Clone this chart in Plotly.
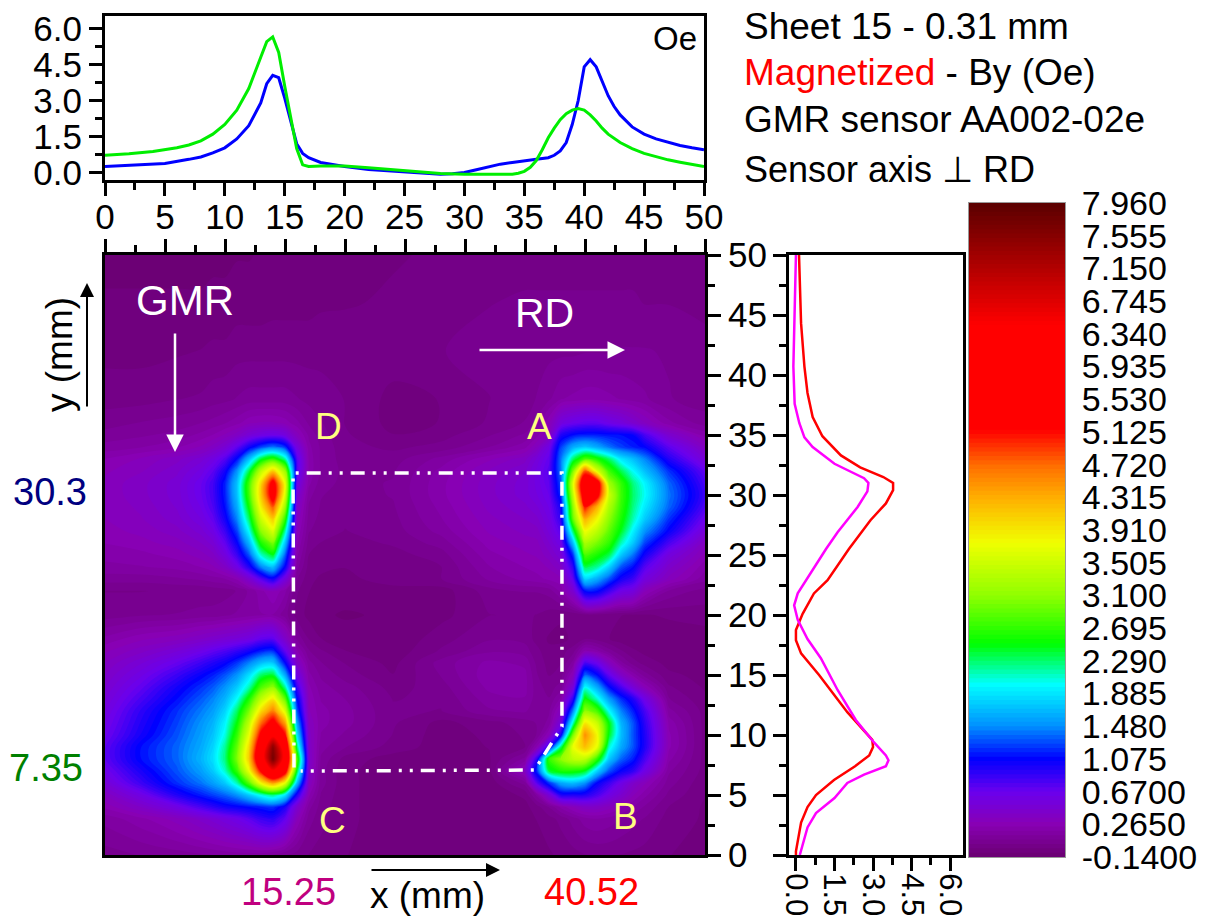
import plotly.graph_objects as go

W, H = 1207, 919
FONT = "Liberation Sans"

# ---- top profiles (x mm, Oe)
blue_x = [0,5,7,8,9,10,11,12,13,13.5,14,14.5,15,15.5,16,16.5,17,18,19,20,22,24,26,28,29,30,31,32,33,34,35,36,37,37.5,38,38.5,39,39.5,40,40.5,41,41.5,42,42.5,43,44,45,46,47,48,49,50]
blue_v = [.25,.38,.55,.65,.82,1.03,1.4,1.95,2.9,3.7,4.05,3.95,3.1,2.1,1.2,.8,.62,.42,.33,.25,.13,.06,-.02,-.07,-.05,0,.12,.25,.35,.42,.47,.55,.62,.72,.9,1.25,2.0,3.0,4.4,4.7,4.4,3.8,3.2,2.75,2.4,1.9,1.6,1.4,1.25,1.13,1.03,.95]
green_x = [0,2,4,6,7,8,9,10,11,12,13,13.5,14,14.5,15,15.5,16,16.5,17,18,20,22,24,26,28,30,32,34,34.5,35,35.5,36,36.5,37,37.5,38,38.5,39,39.5,40,40.5,41,41.5,42,43,44,45,46,47,48,49,50]
green_v = [.72,.78,.88,1.03,1.15,1.32,1.6,2.0,2.6,3.5,4.8,5.45,5.65,5.0,3.6,2.3,1.0,.32,.25,.27,.27,.2,.13,.03,-.04,-.07,-.08,-.07,-.03,.05,.22,.5,.95,1.45,1.85,2.2,2.45,2.6,2.67,2.6,2.4,2.15,1.85,1.6,1.25,1.0,.8,.65,.53,.43,.33,.25]

# ---- right profiles (Oe, y mm)
red_y = [50,44.3,40.7,38.5,36.5,34.9,33.3,32.3,31.5,31,30.4,29.3,27.9,25.5,22.9,21.8,20.1,18.75,17.9,16.8,15,11.9,9.6,9,8.3,7.4,6.25,5,4,2.7,.3,0]
red_v = [.12,.2,.33,.45,.65,1.03,1.75,2.5,3.4,3.78,3.78,3.5,2.9,2.06,1.23,.7,.26,0,0,.2,.9,2.0,2.97,3.0,2.85,2.3,1.48,.78,.45,.2,0,0]
mag_y = [50,44.3,40.7,37.6,36,34.8,34,32.6,31.4,31,30.3,29,26.9,25.5,23.1,21.8,20.8,19.6,18,16.4,13.75,11.25,9.4,8.3,7.9,7.4,6.7,6,4.75,3.5,2.3,0]
mag_v = [0,-.07,-.1,-.05,.13,.33,.65,1.5,2.65,2.82,2.78,2.4,1.62,1.17,.45,.07,-.07,.07,.45,.97,1.62,2.33,3.03,3.5,3.6,3.5,2.65,2.0,1.5,.78,.45,.15]

# ---- outline of the sheet (mm)
rect_x = [15.75,15.67,38.08,38.08,35.8,16.3]
rect_y = [7.3,31.83,31.83,10.7,7.08,7.0]

# ---- field map
map_x = [0,3,6,8,9,10,11,12,13,14,15,16,17,18,20,24,28,32,35,36,37,38,39,40,41,42,43,44,45,47,50]
map_y = [0,3,4,5,6,7,8,9,10,11,12,13,14,15,16,17,18,20,22,23,24,25,26,27,28,29,30,31,32,33,34,35,36,38,42,46,50]
map_z = [
[.05,.08,.10,.12,.13,.14,.15,.15,.15,.12,.08,.05,.02,0,-.03,-.06,-.08,-.08,-.06,-.05,-.04,-.02,0,.02,.03,.03,.02,.01,0,-.03,-.06],
[.15,.22,.32,.42,.48,.55,.62,.72,.85,.9,.7,.3,.1,.04,-.02,-.06,-.08,-.08,-.06,-.03,0,.04,.1,.16,.18,.16,.13,.1,.07,0,-.04],
[.25,.4,.6,.8,.9,1.0,1.05,1.1,1.15,1.2,.98,.45,.15,.05,-.02,-.06,-.08,-.07,-.05,0,.08,.2,.3,.38,.38,.32,.25,.18,.12,.02,-.04],
[.35,.6,.95,1.15,1.25,1.35,1.5,1.75,2.05,2.25,1.9,.95,.25,.07,-.02,-.06,-.08,-.07,-.02,.15,.5,.95,.95,.95,.8,.6,.45,.3,.2,.06,-.03],
[.5,.85,1.2,1.4,1.55,1.75,2.15,2.85,3.8,4.4,3.7,1.7,.35,.1,-.02,-.06,-.08,-.07,.1,.75,1.2,1.6,1.7,1.5,1.07,.85,.62,.42,.3,.1,-.02],
[.62,.98,1.3,1.55,1.75,2.1,2.7,3.7,5.2,6.4,5.5,2.4,.4,.1,-.02,-.06,-.08,-.05,.35,1.2,2.4,2.6,2.6,2.45,1.8,1.3,1.05,.9,.6,.14,0],
[.72,1.1,1.35,1.65,1.85,2.25,3.0,4.1,6.0,7.7,6.2,2.8,.42,.12,0,-.06,-.08,-.04,.15,.9,2.7,3.1,3.4,3.4,2.7,1.75,1.35,1.15,.8,.2,0],
[.72,1.1,1.35,1.6,1.8,2.2,2.9,4.0,5.8,7.5,6.0,2.3,.4,.15,.08,0,-.06,-.03,.02,.25,.9,2.3,3.7,4.2,3.7,2.1,1.6,1.3,.95,.25,0],
[.65,1.0,1.3,1.55,1.72,2.05,2.7,3.7,5.3,6.3,5.2,1.9,.38,.18,.12,.02,-.06,-.02,.03,.08,.3,1.0,3.0,4.5,3.8,2.45,1.7,1.3,.95,.25,0],
[.6,.95,1.25,1.5,1.65,1.95,2.5,3.4,4.7,5.4,4.4,1.6,.35,.2,.15,.03,-.05,0,.05,.08,.15,.55,2.1,3.9,3.5,2.5,1.65,1.3,.9,.22,0],
[.55,.9,1.2,1.42,1.55,1.8,2.3,3.0,4.0,4.6,3.6,1.3,.3,.2,.15,.03,.02,.12,.14,.08,.12,.35,1.45,3.1,2.8,2.0,1.45,1.15,.8,.15,0],
[.5,.8,1.1,1.32,1.45,1.65,2.0,2.6,3.4,3.9,2.9,1.1,.28,.18,.13,.02,.03,.16,.18,.1,.08,.2,.9,2.55,2.1,1.55,1.2,.95,.6,.08,-.02],
[.45,.7,1.0,1.2,1.32,1.5,1.75,2.15,2.8,3.1,2.2,.85,.25,.15,.1,0,.05,.2,.2,.1,.05,.1,.5,2.0,1.6,1.1,.8,.5,.28,.03,-.04],
[.4,.6,.85,1.05,1.15,1.3,1.5,1.85,2.3,2.4,1.6,.6,.2,.12,.05,-.03,.08,.22,.2,.08,.02,.05,.3,1.35,1.1,.7,.4,.22,.1,-.02,-.05],
[.35,.5,.68,.85,.95,1.05,1.22,1.45,1.7,1.75,1.1,.4,.15,.08,.02,-.05,.1,.2,.17,.06,0,.02,.15,.8,.65,.35,.15,.05,0,-.05,-.06],
[.28,.38,.5,.62,.7,.78,.88,1.0,1.15,1.2,.7,.25,.08,.03,-.03,-.07,.03,.12,.1,.04,-.02,0,.05,.25,.2,.1,.03,-.02,-.05,-.07,-.07],
[.2,.28,.33,.4,.44,.48,.52,.58,.7,.72,.42,.12,.02,-.03,-.07,-.08,0,.07,.06,0,-.04,-.05,-.02,.02,0,-.03,-.06,-.08,-.08,-.08,-.07],
[.05,.07,.08,.1,.1,.12,.14,.16,.18,.18,.1,0,-.05,-.08,-.09,-.08,-.05,.02,.03,.02,0,-.02,-.02,0,0,-.02,-.03,-.04,-.04,-.02,0],
[.02,.02,.03,.03,.04,.05,.08,.14,.22,.3,.2,.03,-.03,-.06,-.07,-.06,-.06,.05,.08,.08,.1,.2,.45,1.1,1.1,.85,.62,.55,.3,.12,.05],
[.1,.1,.12,.14,.16,.18,.25,.45,.75,1.0,.55,.08,-.02,-.04,-.05,0,.02,.14,.2,.22,.25,.28,.7,1.8,1.6,1.3,1.0,.85,.55,.32,.15],
[.17,.18,.2,.24,.28,.38,.6,.95,1.45,1.7,1.05,.15,0,-.02,-.03,0,.02,.18,.24,.26,.3,.4,.9,2.35,2.2,1.8,1.3,1.1,.75,.42,.2],
[.2,.22,.26,.32,.38,.55,.85,1.3,2.1,2.45,1.35,.2,.02,0,-.02,0,.05,.22,.28,.3,.38,.5,1.2,2.8,2.6,2.35,1.75,1.4,1.0,.55,.27],
[.24,.27,.32,.4,.48,.7,1.05,1.65,2.6,3.0,1.75,.25,.05,.02,0,.03,.1,.26,.32,.33,.45,.62,1.7,3.25,3.0,2.7,2.15,1.75,1.25,.8,.35],
[.27,.31,.38,.48,.6,.85,1.25,2.0,3.1,3.6,2.2,.3,.08,.05,.02,.05,.15,.3,.36,.38,.52,.75,2.3,3.75,3.4,2.9,2.45,1.95,1.5,1.05,.5],
[.29,.34,.43,.56,.7,1.0,1.45,2.3,3.5,4.1,2.7,.35,.1,.06,.03,.06,.18,.33,.4,.44,.57,.9,2.9,4.3,3.8,3.1,2.6,2.15,1.75,1.2,.65],
[.3,.36,.46,.62,.78,1.1,1.6,2.55,3.85,4.8,3.2,.4,.12,.07,.04,.07,.2,.36,.44,.5,.62,1.0,3.1,5.1,4.3,3.3,2.7,2.25,1.9,1.35,.78],
[.31,.38,.48,.66,.82,1.15,1.7,2.75,4.1,5.5,3.6,.48,.15,.08,.05,.08,.22,.38,.48,.56,.67,1.2,3.4,5.7,5.4,3.5,2.75,2.3,2.0,1.4,.85],
[.31,.38,.48,.66,.82,1.15,1.7,2.75,4.0,5.4,3.7,.6,.2,.1,.06,.08,.22,.38,.48,.58,.72,1.3,3.6,5.9,5.6,3.2,2.7,2.25,1.95,1.35,.8],
[.28,.34,.44,.58,.72,1.0,1.5,2.35,3.4,4.1,3.2,.75,.22,.12,.06,.07,.2,.35,.45,.58,.75,1.4,3.0,4.8,3.6,2.75,2.35,2.0,1.7,1.2,.7],
[.24,.3,.38,.48,.58,.75,1.1,1.7,2.4,2.7,2.2,.75,.22,.12,.05,.05,.15,.28,.38,.52,.7,1.4,2.3,2.8,2.6,2.3,1.9,1.7,1.45,.95,.5],
[.15,.18,.23,.3,.37,.48,.7,1.0,1.25,1.4,1.2,.55,.2,.12,.04,.01,.04,.13,.22,.35,.6,1.25,1.6,1.75,1.6,1.4,1.25,1.15,1.07,.72,.35],
[.1,.12,.15,.2,.24,.3,.38,.5,.58,.62,.55,.32,.17,.1,.03,-.03,0,.07,.14,.22,.35,.95,1.1,1.15,1.15,1.12,1.1,1.05,.8,.45,.22],
[.05,.08,.1,.13,.15,.18,.22,.28,.3,.3,.27,.2,.12,.08,.02,-.05,-.03,.03,.08,.15,.28,.55,.65,.7,.7,.62,.55,.45,.35,.2,.1],
[0,0,.02,.03,.05,.06,.08,.1,.1,.1,.1,.08,.06,.05,.02,-.05,-.03,.02,.05,.08,.12,.18,.2,.22,.22,.2,.18,.16,.14,.08,.05],
[-.05,-.05,-.04,-.03,-.02,-.02,0,0,0,0,0,0,0,0,.02,0,.02,.04,.05,.05,.06,.06,.06,.07,.07,.07,.08,.08,.08,.07,.05],
[-.08,-.08,-.08,-.08,-.07,-.07,-.06,-.06,-.06,-.05,-.05,-.05,-.05,-.04,-.04,-.02,0,.02,.03,.03,.03,.03,.03,.03,.03,.03,.03,.03,.02,.02,0],
[-.1,-.1,-.1,-.1,-.1,-.1,-.09,-.09,-.08,-.08,-.08,-.08,-.07,-.07,-.06,-.04,-.02,0,0,0,0,0,0,0,0,0,0,0,0,-.02,-.03],
]
for r in map_z:
    assert len(r) == len(map_x)
assert len(map_z) == len(map_y)

cbar_vals = [7.96,7.555,7.15,6.745,6.34,5.935,5.53,5.125,4.72,4.315,3.91,3.505,3.1,2.695,2.29,1.885,1.48,1.075,.67,.265,-.14]
cbar_text = ["7.960","7.555","7.150","6.745","6.340","5.935","5.530","5.125","4.720","4.315","3.910","3.505","3.100","2.695","2.290","1.885","1.480","1.075","0.6700","0.2650","-0.1400"]

scale = [[0,"#6a0070"],[.05,"#8800b4"],[.1,"#6a00ee"],[.15,"#0000ff"],[.2,"#0090ff"],[.264,"#00ffff"],
         [.326,"#00ff00"],[.4,"#90ff00"],[.48,"#f0ff00"],[.548,"#ffb000"],[.597,"#ff7000"],[.653,"#ff0000"],
         [.813,"#ff0000"],[1,"#5a0000"]]

def fx(p): return p / W
def fy(p): return 1 - p / H

TS = 35
levels = dict(start=-.14, end=7.96, size=.054, coloring="fill", showlines=False)
fig = go.Figure()

fig.add_trace(go.Scatter(x=blue_x, y=blue_v, mode="lines", line=dict(color="#0000ff", width=3), xaxis="x", yaxis="y", showlegend=False))
fig.add_trace(go.Scatter(x=green_x, y=green_v, mode="lines", line=dict(color="#00ee00", width=3), xaxis="x", yaxis="y", showlegend=False))

fig.add_trace(go.Contour(x=map_x, y=map_y, z=map_z, xaxis="x2", yaxis="y2", colorscale=scale, zmin=-.14, zmax=7.96,
    contours=levels, line=dict(width=0, smoothing=1), showscale=False))

fig.add_trace(go.Scatter(x=rect_x, y=rect_y, mode="lines", line=dict(color="white", width=3.5, dash="14px,8px,3px,8px,3px,8px"),
                         xaxis="x2", yaxis="y2", showlegend=False))

fig.add_trace(go.Scatter(x=red_v, y=red_y, mode="lines", line=dict(color="#ff0000", width=2.5), xaxis="x3", yaxis="y3", showlegend=False))
fig.add_trace(go.Scatter(x=mag_v, y=mag_y, mode="lines", line=dict(color="#ff00ff", width=2.5), xaxis="x3", yaxis="y3", showlegend=False))

# colour scale drawn from its own tick values
fig.add_trace(go.Contour(x=[0,1], y=cbar_vals, z=[[v, v] for v in cbar_vals], xaxis="x4", yaxis="y4", colorscale=scale, zmin=-.14, zmax=7.96,
    contours=levels, line=dict(width=0), showscale=False, hoverinfo="skip"))

tick = dict(ticks="outside", tickcolor="black", tickwidth=2.5, ticklen=13, linecolor="black", linewidth=3, showgrid=False, zeroline=False,
            tickfont=dict(family=FONT, size=TS, color="black"))
minor = lambda d: dict(dtick=d, ticks="outside", ticklen=7, tickwidth=2.5, tickcolor="black", showgrid=False)
tick3 = dict(tick, tickfont=dict(family=FONT, size=31, color="black"))

fig.update_layout(
    width=W, height=H, autosize=False, margin=dict(l=0, r=0, t=0, b=0, autoexpand=False), paper_bgcolor="white", plot_bgcolor="white",
    showlegend=False,
    xaxis=dict(domain=[fx(105), fx(704)], range=[0,50], anchor="y", tick0=0, dtick=5, minor=minor(2.5), mirror=True, ticklabelstandoff=-9, **tick),
    yaxis=dict(domain=[fy(180), fy(16)], range=[-.31,6.52], anchor="x", tick0=0, dtick=1.5, tickformat=".1f", minor=minor(.75), mirror=True, **tick),
    xaxis2=dict(domain=[fx(105), fx(705)], range=[0,50], anchor="y2", side="top", tick0=0, dtick=5, minor=minor(2.5), showticklabels=False, mirror=True, **tick),
    yaxis2=dict(domain=[fy(855), fy(255)], range=[0,50], anchor="x2", side="right", tick0=0, dtick=5, minor=minor(2.5), mirror=True, **tick),
    xaxis3=dict(domain=[fx(789), fx(963)], range=[-.27,6.5], anchor="y3", tick0=0, dtick=1.5, tickformat=".1f", tickangle=90, minor=minor(.75), mirror=True, ticklabelstandoff=-4, **tick3),
    yaxis3=dict(domain=[fy(855), fy(255)], range=[0,50], anchor="x3", tick0=0, dtick=5, minor=minor(2.5), showticklabels=False, mirror=True, **tick),
    xaxis4=dict(domain=[fx(969), fx(1065)], range=[0,1], anchor="y4", showticklabels=False, ticks="", showgrid=False, zeroline=False,
                showline=True, linecolor="#999999", linewidth=1, mirror=True),
    yaxis4=dict(domain=[fy(857), fy(203)], range=[-.14,7.96], anchor="x4", side="right", tickmode="array", tickvals=cbar_vals, ticktext=cbar_text,
                ticks="outside", ticklen=9, tickcolor="rgba(0,0,0,0)", showgrid=False, zeroline=False, showline=True, linecolor="#999999", linewidth=1,
                mirror=True, tickfont=dict(family=FONT, size=34, color="black")),
)

def label(px, py, text, color="black", size=TS, angle=0, xanchor="center"):
    fig.add_annotation(x=fx(px), y=fy(py), xref="paper", yref="paper", text=text, showarrow=False, textangle=angle,
                       xanchor=xanchor, yanchor="middle", font=dict(family=FONT, size=size, color=color))

def arrow(px0, py0, px1, py1, color, width):
    fig.add_annotation(x=fx(px1), y=fy(py1), xref="paper", yref="paper", ax=px0 - px1, ay=py0 - py1, axref="pixel", ayref="pixel",
                       text="", showarrow=True, arrowhead=2, arrowsize=1.4, arrowwidth=width, arrowcolor=color)

label(742, 27, "Sheet 15 - 0.31 mm", xanchor="left", size=37)
label(742, 73, "<span style='color:#ff0000'>Magnetized</span> - By (Oe)", xanchor="left", size=37)
label(742, 120, "GMR sensor AA002-02e", xanchor="left", size=37)
label(742, 170, "Sensor axis ⊥ RD", xanchor="left", size=36)
label(675, 38, "Oe", size=33)
label(185, 300, "GMR", "white", 42)
label(544, 313, "RD", "white", 41)
label(328, 427, "D", "#ffff80", 37)
label(539, 427, "A", "#ffff80", 37)
label(332, 820, "C", "#ffff80", 37)
label(625, 816, "B", "#ffff80", 37)
label(50, 492, "30.3", "#000080", 38)
label(46, 768, "7.35", "#008000", 38)
label(288, 892, "15.25", "#c0007f", 38)
label(591, 892, "40.52", "#ff0000", 38)
label(427, 895, "x (mm)", size=37)
label(60, 355, "y (mm)", angle=-90, size=37)
arrow(370, 870, 500, 870, "black", 2)
arrow(87, 408, 87, 283, "black", 2)
arrow(175, 332, 175, 452, "white", 2.5)
arrow(478, 350, 625, 350, "white", 2.5)

fig.write_html("out.html", config=dict(displayModeBar=False), post_script="document.body.style.margin='0';document.body.style.overflow='hidden';")
